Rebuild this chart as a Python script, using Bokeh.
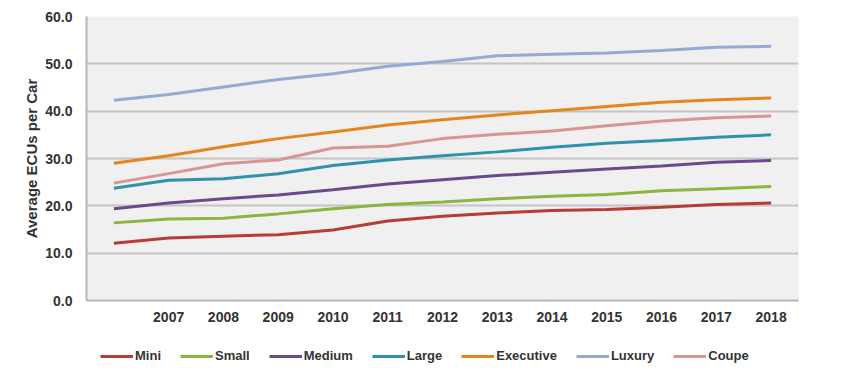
from bokeh.plotting import figure
from bokeh.layouts import column
from bokeh.models import Legend, LegendItem, FixedTicker, NumeralTickFormatter, Range1d
from bokeh.embed import file_html
from bokeh.resources import INLINE

years = [2006, 2007, 2008, 2009, 2010, 2011, 2012, 2013, 2014, 2015, 2016, 2017, 2018]
tick_years = [2007, 2008, 2009, 2010, 2011, 2012, 2013, 2014, 2015, 2016, 2017, 2018]

mini = [12.1, 13.2, 13.6, 13.9, 14.9, 16.8, 17.8, 18.5, 19.0, 19.2, 19.7, 20.3, 20.6]
small = [16.4, 17.2, 17.4, 18.3, 19.4, 20.3, 20.8, 21.5, 22.0, 22.4, 23.2, 23.6, 24.1]
medium = [19.4, 20.6, 21.5, 22.3, 23.4, 24.6, 25.5, 26.4, 27.1, 27.8, 28.4, 29.2, 29.6]
large = [23.7, 25.4, 25.7, 26.8, 28.5, 29.7, 30.6, 31.4, 32.4, 33.2, 33.8, 34.5, 35.0]
executive = [29.0, 30.6, 32.5, 34.2, 35.6, 37.1, 38.2, 39.2, 40.1, 41.0, 41.9, 42.4, 42.8]
luxury = [42.3, 43.5, 45.1, 46.7, 47.9, 49.5, 50.5, 51.7, 52.0, 52.3, 52.8, 53.5, 53.7]
coupe = [24.8, 26.8, 28.9, 29.7, 32.2, 32.6, 34.2, 35.1, 35.8, 36.9, 37.9, 38.6, 39.0]

series = [
    ("Mini", mini, "#b93b36"),
    ("Small", small, "#8db43d"),
    ("Medium", medium, "#6a4a8e"),
    ("Large", large, "#2f92ad"),
    ("Executive", executive, "#e5851f"),
    ("Luxury", luxury, "#94a9d4"),
    ("Coupe", coupe, "#d99594"),
]

FONT = "Liberation Sans"
TXT = "#333333"

p = figure(width=840, height=340, output_backend="svg", toolbar_location=None,
           x_range=Range1d(2005.5, 2018.5), y_range=Range1d(0, 60),
           min_border_left=86, min_border_right=42, min_border_top=16, min_border_bottom=40)

p.background_fill_color = "#f0f0f0"
p.border_fill_color = "white"
p.outline_line_color = None

for name, vals, color in series:
    p.line(years, vals, line_color=color, line_width=3)

# axes
p.xaxis.ticker = FixedTicker(ticks=tick_years)
p.yaxis.ticker = FixedTicker(ticks=[0, 10, 20, 30, 40, 50, 60])
p.yaxis.formatter = NumeralTickFormatter(format="0.0")
for ax in (p.xaxis[0], p.yaxis[0]):
    ax.axis_line_color = "#b5b5b5"
    ax.axis_line_width = 2
    ax.major_tick_line_color = None
    ax.minor_tick_line_color = None
    ax.major_label_text_font = FONT
    ax.major_label_text_font_style = "bold"
    ax.major_label_text_font_size = "14px"
    ax.major_label_text_color = TXT
p.xaxis.major_label_standoff = 5
p.yaxis.major_label_standoff = 8
p.yaxis.axis_label = "Average ECUs per Car"
p.yaxis.axis_label_text_font = FONT
p.yaxis.axis_label_text_font_style = "bold"
p.yaxis.axis_label_text_font_size = "15px"
p.yaxis.axis_label_text_color = TXT
p.yaxis.axis_label_standoff = 2

p.xgrid.grid_line_color = None
p.ygrid.grid_line_color = "#c4c4c4"
p.ygrid.grid_line_width = 2

# legend strip: a small figure whose own copies of the lines fall outside its view,
# so only the legend keys show
lg = figure(width=840, height=30, output_backend="svg", toolbar_location=None,
            x_axis_type=None, y_axis_type=None,
            x_range=Range1d(2005.5, 2018.5), y_range=Range1d(-20, -10),
            min_border_left=0, min_border_right=0, min_border_top=0, min_border_bottom=0)
lg.outline_line_color = None
lg.grid.grid_line_color = None
lg.background_fill_color = "white"
items = []
for name, vals, color in series:
    r = lg.line(years, vals, line_color=color, line_width=3)
    items.append(LegendItem(label=name, renderers=[r]))

legend = Legend(items=items, orientation="horizontal", location=(14, 7),
                label_text_font=FONT, label_text_font_style="bold",
                label_text_font_size="13px", label_text_color=TXT,
                glyph_width=33, glyph_height=14, label_standoff=2, spacing=19,
                border_line_color=None, background_fill_alpha=0,
                margin=0, padding=2)
lg.add_layout(legend)

layout = column(p, lg, spacing=0)
open("out.html", "w").write(file_html(layout, INLINE))
